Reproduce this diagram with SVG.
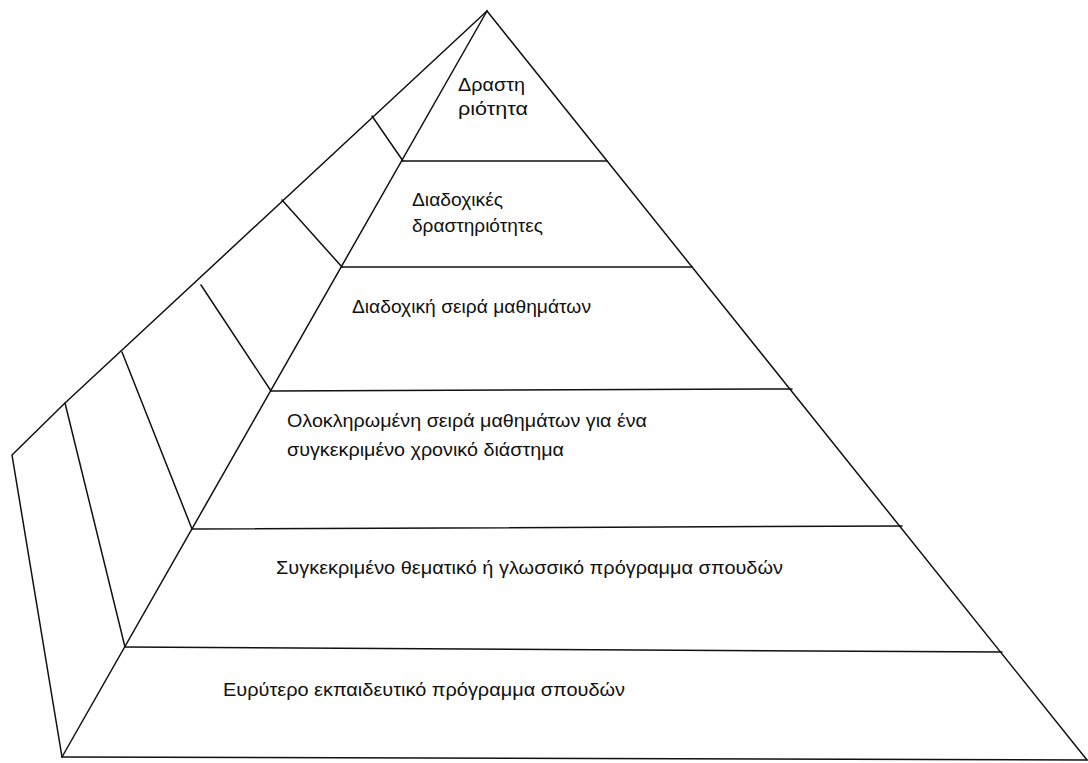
<svg xmlns="http://www.w3.org/2000/svg" width="1088" height="763" viewBox="0 0 1088 763">
<style>
.ln{stroke:#111;stroke-width:1.5;fill:none;stroke-linecap:round;stroke-linejoin:round}
.t{font-family:"Liberation Sans",Arial,"DejaVu Sans",sans-serif;font-size:18px;fill:#111}
</style>
<rect width="1088" height="763" fill="#fff"/>
<g id="connectors">
<polyline class="ln" points="487,11 62,757"/>
<polyline class="ln" points="487,11 1087,760"/>
<polyline class="ln" points="487,11 65,403 12,455 62,757"/>
<line class="ln" x1="372" y1="116" x2="403" y2="161"/>
<line class="ln" x1="282" y1="200" x2="342" y2="267"/>
<line class="ln" x1="201" y1="285" x2="271" y2="391"/>
<line class="ln" x1="122" y1="352" x2="192" y2="529"/>
<line class="ln" x1="65" y1="403" x2="125" y2="647"/>
<line class="ln" x1="402" y1="161" x2="607" y2="161"/>
<line class="ln" x1="342" y1="267" x2="692" y2="267"/>
<line class="ln" x1="271" y1="391" x2="792" y2="389"/>
<line class="ln" x1="192" y1="529" x2="902" y2="526"/>
<line class="ln" x1="125" y1="647" x2="1002" y2="652"/>
<line class="ln" x1="62" y1="757" x2="1087" y2="760"/>
</g>
<g id="level1"><text class="t" x="458" y="91" textLength="67" lengthAdjust="spacingAndGlyphs">Δραστη</text><text class="t" x="458" y="115" textLength="70" lengthAdjust="spacingAndGlyphs">ριότητα</text></g>
<g id="level2"><text class="t" x="412" y="206" textLength="91" lengthAdjust="spacingAndGlyphs">Διαδοχικές</text><text class="t" x="412" y="232" textLength="131" lengthAdjust="spacingAndGlyphs">δραστηριότητες</text></g>
<g id="level3"><text class="t" x="352" y="313" textLength="239" lengthAdjust="spacingAndGlyphs">Διαδοχική σειρά μαθημάτων</text></g>
<g id="level4"><text class="t" x="287" y="427" textLength="360" lengthAdjust="spacingAndGlyphs">Ολοκληρωμένη σειρά μαθημάτων για ένα</text><text class="t" x="287" y="456" textLength="277" lengthAdjust="spacingAndGlyphs">συγκεκριμένο χρονικό διάστημα</text></g>
<g id="level5"><text class="t" x="276" y="574" textLength="507" lengthAdjust="spacingAndGlyphs">Συγκεκριμένο θεματικό ή γλωσσικό πρόγραμμα σπουδών</text></g>
<g id="level6"><text class="t" x="223" y="696" textLength="402" lengthAdjust="spacingAndGlyphs">Ευρύτερο εκπαιδευτικό πρόγραμμα σπουδών</text></g>
</svg>
